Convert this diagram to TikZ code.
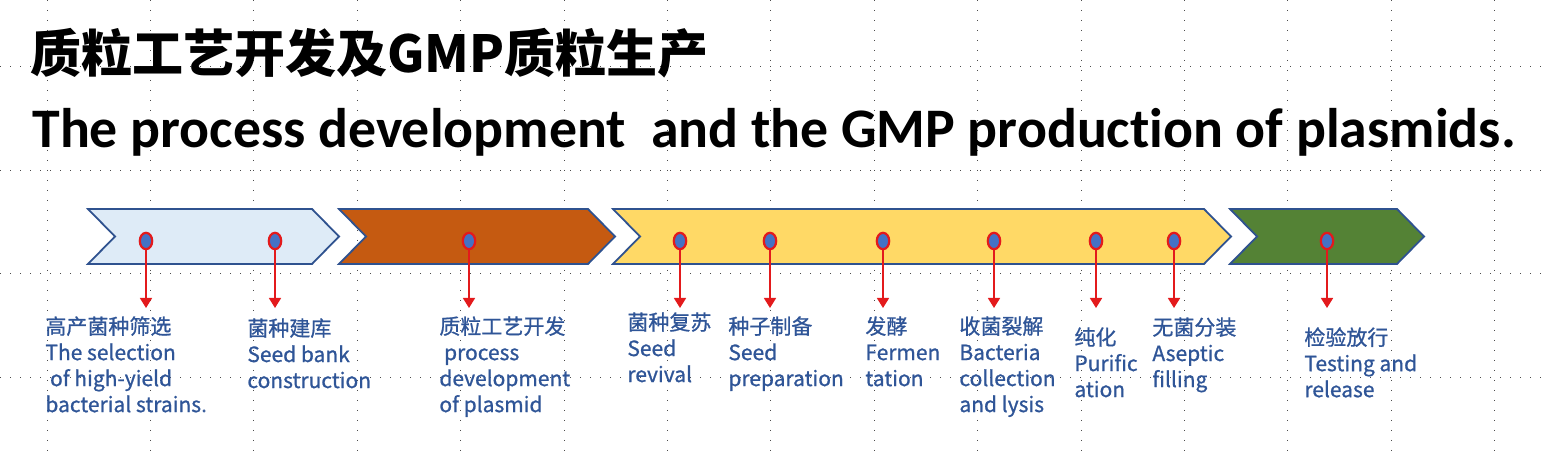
\documentclass[tikz,border=0pt]{standalone}
\usepackage{fontspec}
\setmainfont{Carlito}[Ligatures=NoCommon]
\newfontfamily\cjk{Noto Sans CJK SC}
\newfontfamily\cjkstep{Noto Sans CJK SC}[FakeBold=0.9]
\usetikzlibrary{shapes.geometric,arrows.meta}

\definecolor{outline}{HTML}{2F528F}
\definecolor{screenA}{HTML}{DEEBF7}
\definecolor{screenB}{HTML}{C55A11}
\definecolor{screenC}{HTML}{FFD966}
\definecolor{screenD}{HTML}{548235}
\definecolor{beadblue}{HTML}{4472C4}
\definecolor{beadred}{HTML}{E31A1C}
\definecolor{textblue}{HTML}{2F5597}

\begin{document}
\begin{tikzpicture}
		[x=0.5pt,y=-0.5pt,
		gridline/.style={black!70,line width=0.5pt,dash pattern=on 0.5pt off 4.5pt},
		chevron/.style={draw=outline,line width=0.9pt,line join=miter},
		bead/.style={ellipse,draw=beadred,fill=beadblue,line width=1.1pt,inner sep=0pt,minimum width=6.2pt,minimum height=8.2pt},
		pointer/.style={beadred,line width=0.8pt,-{Triangle[width=6pt,length=5pt]}},
		stage/.style={anchor=north west,align=left,inner sep=0pt,text=textblue,font=\cjkstep\fontsize{10.5}{13}\selectfont}]
		\useasboundingbox (0,0) rectangle (1549,453);

		% the dotted grid behind everything
		\foreach \i in {0,...,14}
			\draw [gridline] (47+103.4*\i,0) -- (47+103.4*\i,453);
		\foreach \j in {0,...,3}
			\draw [gridline] (0,67+103.5*\j) -- (1549,67+103.5*\j);

		% the two titles
		\node [anchor=base west,inner sep=0pt,font=\cjk\bfseries\fontsize{25.5}{30}\selectfont] (titlecn) at (30,73) {质粒工艺开发及GMP质粒生产};
		\node [anchor=base west,inner sep=0pt,font=\bfseries\fontsize{27.9}{32}\selectfont] (titleen) at (32,148) {The process development \ and the GMP production of plasmids.};

		% the four chevrons
		\foreach \a/\b/\c in {88/312/screenA, 339/588/screenB, 613/1204/screenC, 1230/1397/screenD}
			\draw [chevron,fill=\c] (\a,209) -- (\b,209) -- (\b+27,236.5) -- (\b,264) -- (\a,264) -- (\a+27,236.5) -- cycle;

		% the beads and their arrows
		\foreach \n/\x in {1/146, 2/275, 3/469, 4/680, 5/770, 6/883, 7/994, 8/1096, 9/1174, 10/1327}
		{
			\node [bead] (b\n) at (\x,241) {};
			\coordinate (t\n) at (\x,308);
			\draw [pointer] (b\n) -- (t\n);
		}

		% the steps
		\node [stage] (s1) at (45,316) {高产菌种筛选\\The selection\\\ of high-yield\\bacterial strains.};
		\node [stage] (s2) at (247,318) {菌种建库\\Seed bank\\construction};
		\node [stage] (s3) at (439,316) {质粒工艺开发\\\ process\\development\\of plasmid};
		\node [stage] (s4) at (627,312) {菌种复苏\\Seed\\revival};
		\node [stage] (s5) at (728,316) {种子制备\\Seed\\preparation};
		\node [stage] (s6) at (865,316) {发酵\\Fermen\\tation};
		\node [stage] (s7) at (959,316) {收菌裂解\\Bacteria\\collection\\and lysis};
		\node [stage] (s8) at (1074,327) {纯化\\Purific\\ation};
		\node [stage] (s9) at (1152,317) {无菌分装\\Aseptic\\filling};
		\node [stage] (s10) at (1304,327) {检验放行\\Testing and\\release};
	\end{tikzpicture}
\end{document}
